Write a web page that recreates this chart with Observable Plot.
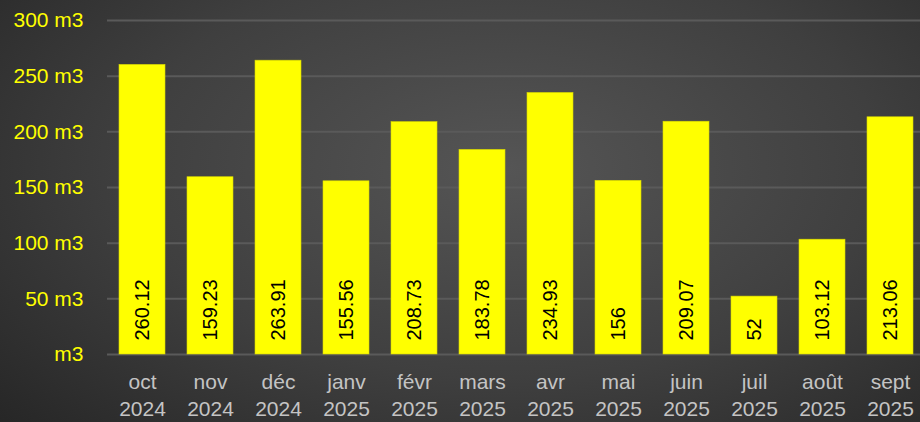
<!DOCTYPE html>
<html>
<head>
<meta charset="utf-8">
<script src="https://cdn.jsdelivr.net/npm/d3@7"></script>
<script src="https://cdn.jsdelivr.net/npm/@observablehq/plot@0.6"></script>
<style>
  html, body { margin: 0; padding: 0; overflow: hidden; }
  #chart {
    width: 920px; height: 422px; overflow: hidden;
    background: radial-gradient(ellipse 75% 90% at 55% 40%, #555555 0%, #3f3f3f 55%, #262626 100%);
    font-family: "Liberation Sans", Arial, sans-serif;
  }
  #chart svg { background: transparent; overflow: visible; }
</style>
</head>
<body>
<div id="chart"></div>
<script>
const months = ["oct", "nov", "déc", "janv", "févr", "mars", "avr", "mai", "juin", "juil", "août", "sept"];
const years = ["2024", "2024", "2024", "2025", "2025", "2025", "2025", "2025", "2025", "2025", "2025", "2025"];
const values = [260.12, 159.23, 263.91, 155.56, 208.73, 183.78, 234.93, 156, 209.07, 52, 103.12, 213.06];
const yTicks = [0, 50, 100, 150, 200, 250, 300];

const cats = months.map((m, i) => m + "\n" + years[i]);
const data = cats.map((c, i) => ({cat: c, value: values[i]}));

const plot = Plot.plot({
  width: 920,
  height: 422,
  marginLeft: 107,
  marginRight: -6,
  marginTop: 20,
  marginBottom: 68,
  style: {background: "transparent", fontFamily: "Liberation Sans, Arial, sans-serif"},
  x: {domain: cats, paddingInner: 0.32, paddingOuter: 0.16, label: null},
  y: {domain: [0, 300], label: null},
  marks: [
    Plot.gridY(yTicks, {stroke: "#5a5a5a", strokeOpacity: 1, strokeWidth: 2}),
    Plot.axisY(yTicks, {
      tickSize: 0, tickPadding: 24, fontSize: 21, fill: "#ffff00",
      tickFormat: d => d === 0 ? "m3" : d + " m3", label: null
    }),
    Plot.barY(data, {x: "cat", y: "value", fill: "#ffff00", stroke: "#d8d800", strokeWidth: 0.6}),
    Plot.text(data, {
      x: "cat", y: () => 0, text: d => String(d.value),
      rotate: -90, textAnchor: "start", lineAnchor: "middle",
      dy: -14, fontSize: 20, fill: "#000"
    }),
    Plot.axisX({
      tickSize: 0, tickPadding: 15, fontSize: 21, fill: "#c4c4c4",
      lineHeight: 1.29, label: null
    })
  ]
});
document.getElementById("chart").appendChild(plot);
</script>
</body>
</html>
